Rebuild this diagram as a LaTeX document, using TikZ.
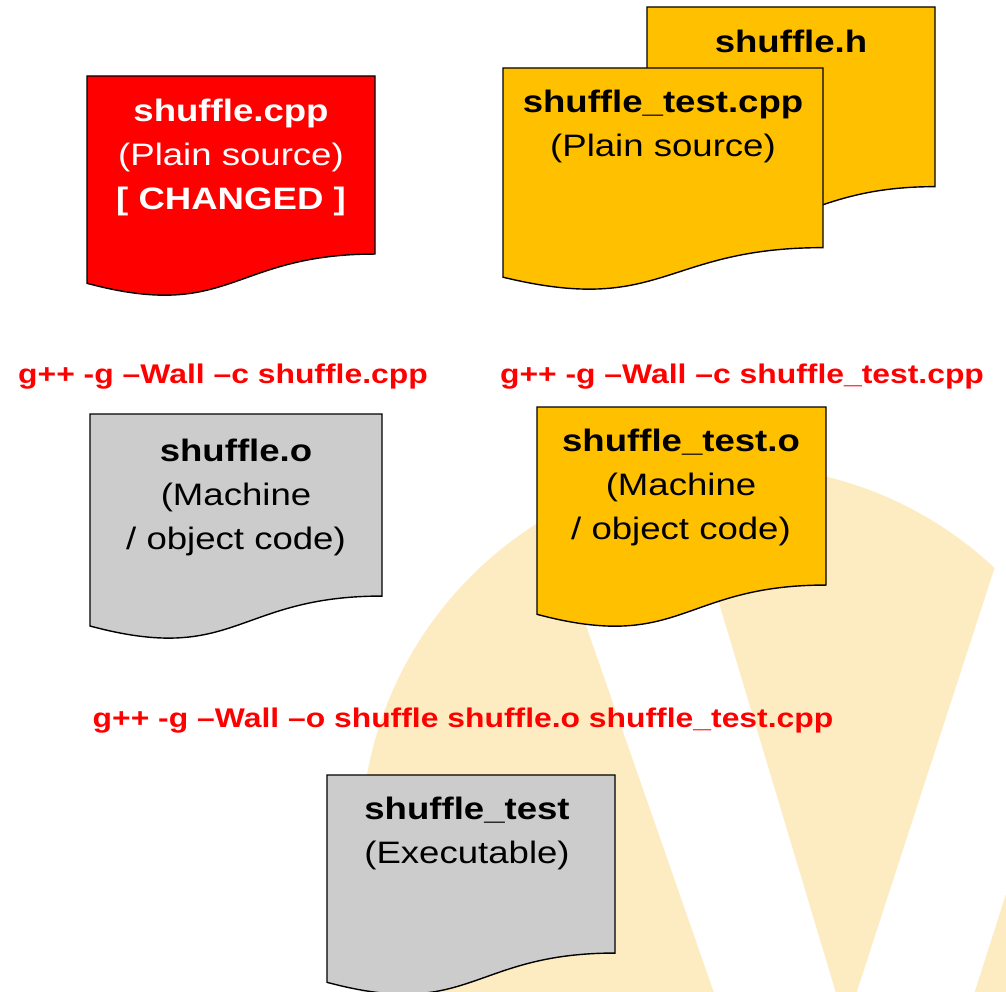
\documentclass[tikz,border=0pt]{standalone}
\usepackage{fontspec}
\setmainfont{Liberation Sans}[FakeStretch=1.18]

\definecolor{wmark}{RGB}{253,236,194}
\definecolor{gold}{RGB}{255,192,0}
\definecolor{greydoc}{RGB}{204,204,204}
\definecolor{cmdred}{RGB}{255,0,0}

% flowchart "document" shape: left, top, width, height, fill colour
\newcommand\filedoc[5]{%
  \filldraw[docline, fill=#5] (#1,#2) -- ({#1+#3},#2) -- ({#1+#3},{#2+0.802*#4})
    .. controls ({#1+0.5*#3},{#2+0.802*#4}) and ({#1+0.5*#3},{#2+1.1075*#4})
    .. (#1,{#2+0.9339*#4}) -- cycle;}

\tikzset{
  docline/.style={draw=black, line width=1.4pt},
  doctext/.style={align=center, anchor=north, inner sep=0pt,
                  font=\fontsize{31}{44}\selectfont},
  cmd/.style={text=cmdred, anchor=base, inner sep=0pt,
              font=\fontsize{27}{30}\selectfont\bfseries},
}

\begin{document}
\begin{tikzpicture}[x=1pt, y=-1pt]
\useasboundingbox (0,0) rectangle (1006,992);
\begin{scope}
\clip (0,0) rectangle (1006,992);
\fill[white] (0,0) rectangle (1006,992);

% faint logo in the background
\fill[wmark] (737,842) circle[radius=376];
\fill[wmark] (361,842) rectangle (1113,1000);
\fill[white] (525,450) -- (673,450) -- (853,1050) -- (734,1050) -- cycle;
\fill[white] (1033,450) -- (1148,450) -- (956,1050) -- (838,1050) -- cycle;

% source files
\filedoc{87}{76}{288}{222}{red}
\filedoc{647}{7}{288}{224}{gold}
\filedoc{503}{68}{320}{224}{gold}

% object files
\filedoc{90}{414}{292}{227}{greydoc}
\filedoc{537}{407}{289}{222}{gold}

% executable
\filedoc{327}{775}{288}{222}{greydoc}
\end{scope}

\node[doctext, text=white] (cppsrc) at (231,99)
  {\textbf{shuffle.cpp}\\(Plain source)\\\textbf{[ CHANGED ]}};
\node[doctext] (hdr) at (791,30) {\textbf{shuffle.h}};
\node[doctext] (testsrc) at (663,90) {\textbf{shuffle\_test.cpp}\\(Plain source)};
\node[doctext] (cppobj) at (236,439) {\textbf{shuffle.o}\\(Machine\\/ object code)};
\node[doctext] (testobj) at (681,429) {\textbf{shuffle\_test.o}\\(Machine\\/ object code)};
\node[doctext] (exe) at (467,797) {\textbf{shuffle\_test}\\(Executable)};

\node[cmd] (compile1) at (223,383) {g++ -g –Wall –c shuffle.cpp};
\node[cmd] (compile2) at (742,383) {g++ -g –Wall –c shuffle\_test.cpp};
\node[cmd] (link) at (463,727) {g++ -g –Wall –o shuffle shuffle.o shuffle\_test.cpp};
\end{tikzpicture}
\end{document}
